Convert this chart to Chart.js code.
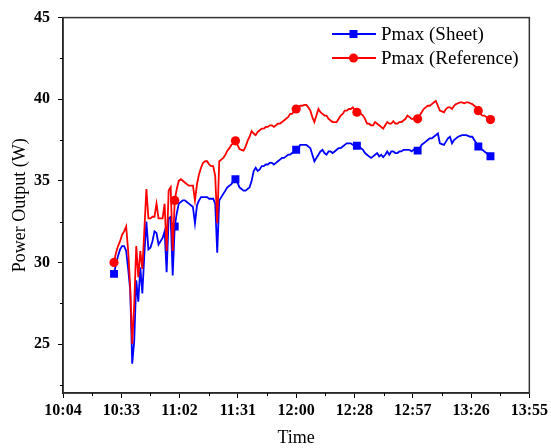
<!DOCTYPE html>
<html>
<head>
<meta charset="utf-8">
<script src="https://cdn.jsdelivr.net/npm/chart.js@4.4.1/dist/chart.umd.min.js"></script>
<style>
  html, body { margin: 0; padding: 0; background: #fff; }
</style>
</head>
<body>
<canvas id="chart" width="551" height="448"></canvas>
<script>
// one reading per minute, 10:30 to 13:36
const times = [
  '10:30','10:31','10:32','10:33','10:34','10:35','10:36','10:37','10:38','10:39',
  '10:40','10:41','10:42','10:43','10:44','10:45','10:46','10:47','10:48','10:49',
  '10:50','10:51','10:52','10:53','10:54','10:55','10:56','10:57','10:58','10:59',
  '11:00','11:01','11:02','11:03','11:04','11:05','11:06','11:07','11:08','11:09',
  '11:10','11:11','11:12','11:13','11:14','11:15','11:16','11:17','11:18','11:19',
  '11:20','11:21','11:22','11:23','11:24','11:25','11:26','11:27','11:28','11:29',
  '11:30','11:31','11:32','11:33','11:34','11:35','11:36','11:37','11:38','11:39',
  '11:40','11:41','11:42','11:43','11:44','11:45','11:46','11:47','11:48','11:49',
  '11:50','11:51','11:52','11:53','11:54','11:55','11:56','11:57','11:58','11:59',
  '12:00','12:01','12:02','12:03','12:04','12:05','12:06','12:07','12:08','12:09',
  '12:10','12:11','12:12','12:13','12:14','12:15','12:16','12:17','12:18','12:19',
  '12:20','12:21','12:22','12:23','12:24','12:25','12:26','12:27','12:28','12:29',
  '12:30','12:31','12:32','12:33','12:34','12:35','12:36','12:37','12:38','12:39',
  '12:40','12:41','12:42','12:43','12:44','12:45','12:46','12:47','12:48','12:49',
  '12:50','12:51','12:52','12:53','12:54','12:55','12:56','12:57','12:58','12:59',
  '13:00','13:01','13:02','13:03','13:04','13:05','13:06','13:07','13:08','13:09',
  '13:10','13:11','13:12','13:13','13:14','13:15','13:16','13:17','13:18','13:19',
  '13:20','13:21','13:22','13:23','13:24','13:25','13:26','13:27','13:28','13:29',
  '13:30','13:31','13:32','13:33','13:34','13:35','13:36'
];

const sheet = [
  29.3, 29.9, 30.4, 30.8, 31.0, 31.0, 30.7, 29.6, 28.3, 23.8,
  25.2, 28.9, 27.6, 29.7, 28.1, 30.5, 32.5, 30.8, 30.9, 31.3,
  31.9, 31.8, 31.1, 31.3, 31.5, 31.9, 29.4, 32.7, 32.8, 29.2,
  32.2, 33.0, 33.6, 33.7, 33.8, 33.8, 33.7, 33.6, 33.5, 33.4,
  32.4, 33.5, 33.8, 34.0, 34.0, 34.0, 34.0, 33.9, 33.9, 33.9,
  33.6, 30.6, 33.8, 34.0, 34.2, 34.4, 34.6, 34.7, 34.8, 35.0,
  35.1, 34.9, 34.6, 34.5, 34.4, 34.4, 34.5, 34.6, 35.0, 35.6,
  35.8, 35.6, 35.7, 35.9, 35.9, 36.0, 36.0, 36.1, 36.1, 36.0,
  36.1, 36.2, 36.3, 36.4, 36.4, 36.5, 36.6, 36.6, 36.7, 36.8,
  36.9, 37.0, 37.2, 37.2, 37.2, 37.2, 37.1, 37.0, 36.6, 36.2,
  36.4, 36.6, 36.8, 36.9, 36.7, 36.6, 36.8, 36.8, 36.7, 36.8,
  36.9, 37.0, 37.0, 37.1, 37.2, 37.3, 37.3, 37.3, 37.2, 37.2,
  37.15, 37.1, 37.0, 36.9, 36.7, 36.6, 36.5, 36.4, 36.5, 36.6,
  36.7, 36.5, 36.6, 36.45, 36.6, 36.8, 36.6, 36.8, 36.8, 36.7,
  36.7, 36.8, 36.8, 36.9, 36.9, 36.9, 36.9, 36.8, 36.9, 36.85,
  36.85, 37.0, 37.2, 37.3, 37.4, 37.5, 37.6, 37.6, 37.7, 37.8,
  37.9, 37.3, 37.25, 37.2, 37.4, 37.6, 37.7, 37.3, 37.5, 37.6,
  37.7, 37.75, 37.8, 37.8, 37.8, 37.75, 37.7, 37.7, 37.5, 37.3,
  37.1, 37.0, 36.9, 36.8, 36.7, 36.6, 36.5
];

const reference = [
  30.0, 30.6, 31.0, 31.3, 31.7, 31.9, 32.2, 30.7, 28.5, 25.0,
  27.5, 31.0, 29.1, 30.7, 29.6, 32.0, 34.5, 32.7, 32.7, 32.8,
  32.8, 33.6, 32.7, 32.7, 32.7, 33.6, 30.7, 34.4, 34.6, 30.7,
  33.8, 34.5, 35.0, 35.1, 35.0, 34.9, 34.8, 34.7, 34.7, 34.7,
  33.8, 34.8, 35.4, 35.8, 36.1, 36.2, 36.2, 36.0, 35.9, 35.9,
  35.3, 32.4, 36.2, 36.3, 36.4, 36.6, 36.85, 37.0, 37.2, 37.3,
  37.45, 37.2, 36.95, 36.9, 36.85, 37.1, 37.45, 37.7, 38.05, 37.9,
  37.8, 38.0, 38.1, 38.2, 38.2, 38.3, 38.3, 38.4, 38.4, 38.3,
  38.4, 38.5, 38.5, 38.6, 38.7, 38.8, 38.9, 39.1, 39.1, 39.3,
  39.4, 39.5, 39.6, 39.6, 39.65, 39.65, 39.5, 39.3, 38.9, 38.6,
  39.0, 39.4, 39.2, 39.1, 39.0, 39.0, 38.8, 38.7, 38.6, 38.6,
  38.6, 38.8, 39.0, 39.1, 39.3, 39.3, 39.4, 39.4, 39.5, 39.3,
  39.2, 39.15, 39.1, 39.0, 38.8, 38.5, 38.5, 38.4, 38.4, 38.6,
  38.5, 38.4, 38.3, 38.2, 38.4, 38.6, 38.5, 38.5, 38.65, 38.5,
  38.5, 38.6, 38.6, 38.7, 38.8, 39.0, 38.9, 38.8, 38.8, 38.9,
  38.8, 39.0, 39.2, 39.4, 39.5, 39.6, 39.6, 39.7, 39.8, 39.9,
  39.6, 39.3, 39.25, 39.2, 39.4, 39.5, 39.5, 39.4, 39.6, 39.7,
  39.75, 39.8, 39.8, 39.75, 39.8, 39.8, 39.75, 39.7, 39.6, 39.5,
  39.3, 39.1, 39.0, 39.0, 38.9, 38.8, 38.75
];

// symbols are only drawn on these readings
const markerTimes = ['10:30', '11:00', '11:30', '12:00', '12:30', '13:00', '13:30', '13:36'];

// axis runs over day fractions 0.42 .. 0.58, labels are the truncated clock times
const xRangeDays = [0.42, 0.58];
const xTickLabels = ['10:04', '10:33', '11:02', '11:31', '12:00', '12:28', '12:57', '13:26', '13:55'];
const yTickValues = [25, 30, 35, 40, 45];
const yMinorValues = [22.5, 27.5, 32.5, 37.5, 42.5];

const FONT = "'Liberation Serif', 'Times New Roman', serif";

function toMinutes(t) {
    const parts = t.split(':');
    return parseInt(parts[0]) * 60 + parseInt(parts[1]);
}

const xMin = xRangeDays[0] * 1440;
const xMax = xRangeDays[1] * 1440;
const xStep = (xMax - xMin) / (xTickLabels.length - 1);

function points(values) {
    return times.map((t, i) => ({ x: toMinutes(t), y: values[i] }));
}

function markerRadius(size) {
    return ctx => markerTimes.includes(times[ctx.dataIndex]) ? size : 0;
}

// box round the plot plus the short minor ticks
const framePlugin = {
    id: 'frame',
    afterDraw(chart) {
        const { ctx, chartArea: a, scales } = chart;
        ctx.save();
        ctx.strokeStyle = '#333';
        ctx.lineWidth = 1.5;
        ctx.strokeRect(a.left, a.top, a.right - a.left, a.bottom - a.top);

        ctx.strokeStyle = '#000';
        ctx.lineWidth = 1;
        ctx.beginPath();
        yMinorValues.forEach(v => {
            const y = Math.round(scales.y.getPixelForValue(v)) + 0.5;
            ctx.moveTo(a.left - 3, y);
            ctx.lineTo(a.left, y);
        });
        for (let i = 0; i < xTickLabels.length - 1; i++) {
            const x = Math.round(scales.x.getPixelForValue(xMin + (i + 0.5) * xStep)) + 0.5;
            ctx.moveTo(x, a.bottom);
            ctx.lineTo(x, a.bottom + 3);
        }
        ctx.stroke();
        ctx.restore();
    }
};

// legend in the top right corner: line + symbol + label
const legendPlugin = {
    id: 'boxLegend',
    afterDraw(chart) {
        const { ctx } = chart;
        const rows = [
            { ds: chart.data.datasets[0], y: 34 },
            { ds: chart.data.datasets[1], y: 58 }
        ];
        ctx.save();
        rows.forEach(r => {
            ctx.strokeStyle = r.ds.borderColor;
            ctx.lineWidth = 1.8;
            ctx.beginPath();
            ctx.moveTo(332, r.y);
            ctx.lineTo(376, r.y);
            ctx.stroke();
            ctx.fillStyle = r.ds.borderColor;
            if (r.ds.pointStyle === 'rect') {
                ctx.fillRect(349.5, r.y - 4, 8, 8);
            } else {
                ctx.beginPath();
                ctx.arc(353.5, r.y, 4.5, 0, Math.PI * 2);
                ctx.fill();
            }
            ctx.fillStyle = '#000';
            ctx.font = '19px ' + FONT;
            ctx.textBaseline = 'middle';
            ctx.fillText(r.ds.label, 381, r.y + 1);
        });
        ctx.restore();
    }
};

new Chart(document.getElementById('chart').getContext('2d'), {
    type: 'line',
    data: {
        datasets: [{
            label: 'Pmax (Sheet)',
            data: points(sheet),
            borderColor: '#0000ff',
            backgroundColor: '#0000ff',
            borderWidth: 1.8,
            pointStyle: 'rect',
            pointRadius: markerRadius(5.6),
            pointBorderWidth: 0,
            pointHoverRadius: 0,
            tension: 0,
            order: 2
        }, {
            label: 'Pmax (Reference)',
            data: points(reference),
            borderColor: '#ff0000',
            backgroundColor: '#ff0000',
            borderWidth: 1.8,
            pointStyle: 'circle',
            pointRadius: markerRadius(4.6),
            pointBorderWidth: 0,
            pointHoverRadius: 0,
            tension: 0,
            order: 1
        }]
    },
    options: {
        responsive: false,
        animation: false,
        events: [],
        layout: {
            padding: { top: 16, right: 20, left: 0, bottom: 0 }
        },
        scales: {
            x: {
                type: 'linear',
                min: xMin,
                max: xMax,
                afterBuildTicks: scale => {
                    scale.ticks = xTickLabels.map((l, i) => ({ value: xMin + i * xStep }));
                },
                afterFit: scale => { scale.height = 55; },
                ticks: {
                    callback: (v, i) => xTickLabels[i],
                    font: { family: FONT, size: 16, weight: 'bold' },
                    color: '#000',
                    padding: 3,
                    maxRotation: 0,
                    autoSkip: false
                },
                grid: { drawOnChartArea: false, tickLength: 5, color: '#000', lineWidth: 1 },
                border: { color: '#000', width: 1.5 },
                title: {
                    display: true,
                    text: 'Time',
                    font: { family: FONT, size: 18, lineHeight: 1.05 },
                    color: '#000',
                    padding: 0
                }
            },
            y: {
                min: 22,
                max: 45,
                afterBuildTicks: scale => {
                    scale.ticks = yTickValues.map(v => ({ value: v }));
                },
                afterFit: scale => { scale.width = 63; },
                ticks: {
                    font: { family: FONT, size: 16, weight: 'bold' },
                    color: '#000',
                    padding: 8
                },
                grid: { drawOnChartArea: false, tickLength: 5, color: '#000', lineWidth: 1 },
                border: { color: '#000', width: 1.5 },
                title: {
                    display: true,
                    text: 'Power Output (W)',
                    font: { family: FONT, size: 18 },
                    color: '#000',
                    padding: { top: 9, bottom: 0 }
                }
            }
        },
        plugins: {
            legend: { display: false },
            tooltip: { enabled: false }
        }
    },
    plugins: [framePlugin, legendPlugin]
});
</script>
</body>
</html>
